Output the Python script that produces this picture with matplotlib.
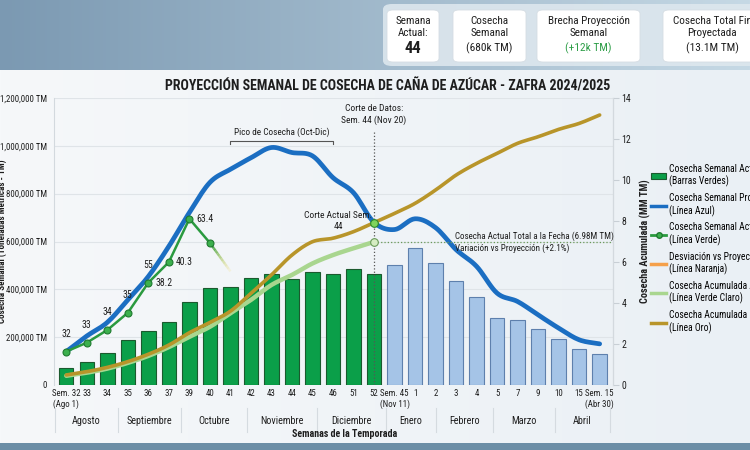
import os
import numpy as np
import matplotlib
matplotlib.use("Agg")
import matplotlib.pyplot as plt
from matplotlib.patches import FancyBboxPatch, Patch
from matplotlib.lines import Line2D
from matplotlib import font_manager as fm

# ---------------- DATA ----------------
week_labels = ["Sem. 32\n(Ago 1)", "33", "34", "35", "36", "37", "39", "40", "41", "42",
               "43", "44", "45", "46", "51", "52", "Sem. 45\n(Nov 11)", "1", "2", "3", "4",
               "5", "7", "9", "10", "15", "Sem. 15\n(Abr 30)"]
actual_weekly_bars = [71000, 96000, 135000, 189000, 226000, 265000, 349000, 405000, 411000,
                      447000, 463000, 444000, 474000, 465000, 485000, 464000]
projected_weekly_bars = [502000, 573000, 511000, 433000, 368000, 282000, 272000, 233000,
                         191000, 150000, 129000]
projected_weekly_line = [140000, 205000, 262000, 356000, 454000, 580000, 721000, 847000,
                         902000, 950000, 993000, 972000, 958000, 867000, 804000, 680000,
                         650000, 695000, 658000, 566000, 496000, 384000, 349000, 293000,
                         238000, 189000, 172000]
actual_weekly_line = [140000, 177000, 230000, 302000, 428000, 514000, 695000, 594000]
actual_line_tail = [594000, 475000]
point_labels_above = ["32", "33", "34", "35", "55"]
point_labels_right = {4: "38.2", 5: "40.3", 6: "63.4"}
cum_projected = [0.49, 0.65, 0.86, 1.14, 1.50, 1.95, 2.55, 3.05, 3.60, 4.47, 5.37, 6.34,
                 6.99, 7.16, 7.48, 7.92, 8.37, 8.86, 9.51, 10.24, 10.81, 11.30, 11.79,
                 12.11, 12.47, 12.76, 13.17]
cum_actual = [0.45, 0.60, 0.80, 1.08, 1.42, 1.85, 2.35, 2.84, 3.50, 4.15, 4.88, 5.37, 5.93,
              6.34, 6.67, 6.98]
months = ["Agosto", "Septiembre", "Octubre", "Noviembre", "Diciembre", "Enero", "Febrero",
          "Marzo", "Abril"]
left_ticks = [0, 200000, 400000, 600000, 800000, 1000000, 1200000]
right_ticks = [0, 2, 4, 6, 8, 10, 12, 14]
cards = [("Semana\nActual:", "44"), ("Cosecha\nSemanal", "(680k TM)"),
         ("Brecha Proyección\nSemanal", "(+12k TM)"), ("Cosecha Total Fin\nProyectada", "(13.1M TM)")]
cut_week = "52"

# ---------------- FONT (prefer a condensed face) ----------------
def _rank(f):
    fn = os.path.basename(f.fname).lower()
    if "italic" in fn or "oblique" in fn:
        return 99
    if "roboto" in fn and "condensed" in fn:
        return 0
    if fn.startswith("notosans-condensed") or fn.startswith("notosanscondensed"):
        return 1
    if "opensans" in fn and "condensed" in fn:
        return 2
    if "narrow" in fn and "liberation" in fn:
        return 3
    if fn.startswith("notosans-semicondensed"):
        return 4
    if "dejavusanscondensed" in fn:
        return 5
    return 99


_c = [f for f in fm.fontManager.ttflist if _rank(f) < 99]
_c.sort(key=lambda f: (_rank(f), abs((f.weight if isinstance(f.weight, int) else 400) - 400)))
if _c:
    plt.rcParams["font.family"] = [_c[0].name, "DejaVu Sans"]
    plt.rcParams["font.stretch"] = _c[0].stretch
else:
    plt.rcParams["font.family"] = ["Roboto", "DejaVu Sans"]

C_GREEN_BAR = "#0b9f49"
C_GREEN_EDGE = "#1b5a2e"
C_BLUE_BAR = "#a5c4e7"
C_BLUE_EDGE = "#5e80ad"
C_BLUE_LINE = "#1b6ec2"
C_GREEN_LINE = "#2a9a3f"
C_GOLD = "#b8952a"
C_LGREEN = "#a9d68f"
C_ORANGE = "#f5a04a"
TXT = "#1e1e1e"
FS = 6.5  # annotation size

W, H = 750, 450
fig = plt.figure(figsize=(7.5, 4.5), dpi=100)

bg = fig.add_axes([0, 0, 1, 1], zorder=-10)
bg.axis("off")
img = np.ones((H, W, 3))
xs = np.linspace(0, 1, W)
top_l = np.array([0x7b, 0x99, 0xb2]) / 255
top_r = np.array([0xc6, 0xd9, 0xe5]) / 255
mid_l = np.array([0xf6, 0xf8, 0xfa]) / 255
mid_r = np.array([0xea, 0xf0, 0xf5]) / 255
bot = np.array([0x6c, 0x8e, 0xa6]) / 255
for r in range(H):
    if r < 70:
        img[r] = top_l[None, :] * (1 - xs[:, None]) + top_r[None, :] * xs[:, None]
    elif r < 443:
        img[r] = mid_l[None, :] * (1 - xs[:, None]) + mid_r[None, :] * xs[:, None]
    else:
        img[r] = bot
bg.imshow(img, extent=[0, 1, 0, 1], aspect="auto")
bg.set_xlim(0, 1)
bg.set_ylim(0, 1)


def fx(px):
    return px / W


def fy(py):
    return 1 - py / H


fig.patches.append(FancyBboxPatch((fx(383), fy(66)), fx(380), 62 / H,
                                  boxstyle="round,pad=0,rounding_size=0.012",
                                  transform=fig.transFigure, fc="#dde7ee", ec="none", alpha=0.9))
card_x = [(387, 439), (453, 526), (537, 640), (663, 770)]
for (x0, x1), (lab, val) in zip(card_x, cards):
    fig.patches.append(FancyBboxPatch((fx(x0), fy(62)), fx(x1 - x0), 52 / H,
                                      boxstyle="round,pad=0,rounding_size=0.008",
                                      transform=fig.transFigure, fc="white", ec="#d5dde3", lw=0.6))
    cx = fx((x0 + x1) / 2) if x1 < 750 else fx(712)
    fig.text(cx, fy(26.5), lab, ha="center", va="center", fontsize=8.0, color=TXT,
             linespacing=1.25)
    is_num = val.isdigit()
    fig.text(cx, fy(48.5), val, ha="center", va="center",
             fontsize=12 if is_num else 8.2,
             color="#2e9e48" if val.startswith("(+") else TXT,
             fontweight="bold" if is_num else "normal")

fig.text(fx(388), fy(86), "PROYECCIÓN SEMANAL DE COSECHA DE CAÑA DE AZÚCAR - ZAFRA 2024/2025",
         ha="center", va="center", fontsize=10.0, fontweight="bold", color=TXT)

ax = fig.add_axes([fx(54), fy(385), (613 - 54) / W, (385 - 98) / H])
ax.set_facecolor("none")
n = len(week_labels)
x = np.arange(n)
na = len(actual_weekly_bars)
ax.bar(x[:na], actual_weekly_bars, width=0.7, color=C_GREEN_BAR, edgecolor=C_GREEN_EDGE,
       linewidth=0.8, zorder=2)
ax.bar(x[na:], projected_weekly_bars, width=0.7, color=C_BLUE_BAR, edgecolor=C_BLUE_EDGE,
       linewidth=0.8, zorder=2)


def smooth(xv, yv, k=10):
    xv = np.asarray(xv, float)
    yv = np.asarray(yv, float)
    P = np.column_stack([xv, yv])
    P = np.vstack([P[0] - (P[1] - P[0]), P, P[-1] + (P[-1] - P[-2])])
    out = []
    t = np.linspace(0, 1, k, endpoint=False)[:, None]
    for i in range(1, len(P) - 2):
        p0, p1, p2, p3 = P[i - 1], P[i], P[i + 1], P[i + 2]
        seg = 0.5 * ((2 * p1) + (-p0 + p2) * t + (2 * p0 - 5 * p1 + 4 * p2 - p3) * t ** 2 +
                     (-p0 + 3 * p1 - 3 * p2 + p3) * t ** 3)
        out.append(seg)
    out.append(P[-2][None, :])
    out = np.vstack(out)
    return out[:, 0], out[:, 1]


sx, sy = smooth(x, projected_weekly_line)
ax.plot(sx, sy, color=C_BLUE_LINE, lw=3.4, solid_capstyle="round", zorder=4)

xg = x[:len(actual_weekly_line)]
ax.plot(xg, actual_weekly_line, color=C_GREEN_LINE, lw=1.8, zorder=5)
ax.plot(xg, actual_weekly_line, "o", ms=5, mfc="#3cb04d", mec="#1f7a30", mew=0.8, zorder=6)
tail_x = np.linspace(xg[-1], xg[-1] + 1, 12)
tail_y = np.linspace(actual_line_tail[0], actual_line_tail[1], 12)
for i in range(11):
    f = i / 10
    col = (0.16 * (1 - f) + 0.95 * f, 0.6 * (1 - f) + 0.85 * f, 0.25 * (1 - f) + 0.3 * f)
    ax.plot(tail_x[i:i + 2], tail_y[i:i + 2], color=col, lw=1.8, alpha=1 - 0.85 * f, zorder=5,
            solid_capstyle="butt")

for i, lab in enumerate(point_labels_above):
    ax.annotate(lab, (xg[i], actual_weekly_line[i]), xytext=(0, 9), textcoords="offset points",
                ha="center", va="bottom", fontsize=7.0, color=TXT, zorder=7)
for i, lab in point_labels_right.items():
    ax.annotate(lab, (xg[i], actual_weekly_line[i]), xytext=(5, 0), textcoords="offset points",
                ha="left", va="center", fontsize=7.0, color=TXT, zorder=7)

ax.set_xlim(-0.6, n - 0.35)
ax.set_ylim(0, 1200000)
ax.set_yticks(left_ticks)
ax.set_yticklabels(["0" if v == 0 else f"{v:,} TM" for v in left_ticks])
ax.set_xticks(x)
ax.set_xticklabels(week_labels)
ax.tick_params(axis="y", length=0, labelsize=6.4, labelcolor=TXT, pad=5)
ax.tick_params(axis="x", length=0, labelsize=6.4, labelcolor=TXT, pad=3)
ax.grid(axis="y", color="#dfe4e8", lw=0.8, zorder=0)
ax.set_axisbelow(True)
for s in ["top", "bottom"]:
    ax.spines[s].set_visible(False)
for s in ["left", "right"]:
    ax.spines[s].set_color("#d3d9de")
    ax.spines[s].set_linewidth(0.8)
ax.set_ylabel("Cosecha Semanal (Toneladas Métricas - TM)", fontsize=6.5, fontweight="bold",
              color=TXT)
ax.yaxis.set_label_coords(-0.084, 0.5)

ax2 = ax.twinx()
ax2.set_ylim(0, 14)
ax2.set_yticks(right_ticks)
ax2.tick_params(axis="y", length=4, color="#c8cfd5", labelsize=7.0, labelcolor=TXT, pad=2)
for s in ["top", "bottom", "left"]:
    ax2.spines[s].set_visible(False)
ax2.spines["right"].set_color("#d3d9de")
ax2.set_ylabel("Cosecha Acumulada (MM TM)", fontsize=7.4, fontweight="bold", color=TXT)
ax2.yaxis.set_label_coords(1.047, 0.5)

sx, sy = smooth(x[:len(cum_actual)], cum_actual)
ax2.plot(sx, sy, color=C_LGREEN, lw=3.2, zorder=3, solid_capstyle="round")
sx, sy = smooth(x, cum_projected)
ax2.plot(sx, sy, color=C_GOLD, lw=2.6, zorder=4, solid_capstyle="round")

ic = week_labels.index(cut_week)
ax2.plot([ic], [cum_projected[ic]], "o", ms=5.5, mfc="#7fd45c", mec="#2b8a2b", mew=0.8, zorder=8)
ax2.plot([ic], [cum_actual[ic]], "o", ms=5.5, mfc="#d5ecc2", mec="#6a9a5a", mew=0.8, zorder=8)
ax2.plot([ic, n - 0.35], [cum_actual[ic], cum_actual[ic]], ls=":", color="#6a9a5a", lw=0.9,
         zorder=7)
ax2.plot([ic, ic], [0, 12.45], ls=":", color="#555555", lw=0.9, zorder=7)
ax2.text(ic, 13.2, "Corte de Datos:\nSem. 44 (Nov 20)", ha="center", va="center",
         fontsize=FS + 0.3, color=TXT, linespacing=1.3)
ax2.text(ic - 1.75, 7.98, "Corte Actual Sem.\n44", ha="center", va="center", fontsize=FS + 0.3,
         color=TXT, linespacing=1.3)
ax2.text(ic + 3.95, 6.97, "Cosecha Actual Total a la Fecha (6.98M TM)\nVariación vs Proyección (+2.1%)",
         ha="left", va="center", fontsize=FS, color=TXT, linespacing=1.3)

b0 = week_labels.index("41")
b1 = week_labels.index("46")
ax2.plot([b0, b0, b1, b1], [11.75, 11.9, 11.9, 11.75], color="#555555", lw=0.8, zorder=7)
ax2.text((b0 + b1) / 2, 12.35, "Pico de Cosecha (Oct-Dic)", ha="center", va="center",
         fontsize=FS + 0.2, color=TXT)

bounds = [-0.56, 2.5, 5.6, 8.8, 12.2, 15.6, 18.0, 20.8, 23.8, 26.5]
trans = ax.get_xaxis_transform()
for b in bounds:
    ax.plot([b, b], [-0.08, -0.165], transform=trans, color="#d5dbe0", lw=0.8, clip_on=False)
for m, a, b in zip(months, bounds[:-1], bounds[1:]):
    ax.text((a + b) / 2, -0.125, m, transform=trans, ha="center", va="center", fontsize=7.3,
            color=TXT)
ax.text(0.52, -0.172, "Semanas de la Temporada", transform=ax.transAxes, ha="center",
        va="center", fontsize=7.1, fontweight="bold", color=TXT)

handles = [Patch(fc=C_GREEN_BAR, ec=C_GREEN_EDGE, lw=0.8),
           Line2D([], [], color=C_BLUE_LINE, lw=2.5),
           Line2D([], [], color=C_GREEN_LINE, lw=2, marker="o", ms=4, mfc="#3cb04d", mec="#1f7a30"),
           Line2D([], [], color=C_ORANGE, lw=2.5),
           Line2D([], [], color=C_LGREEN, lw=2.5),
           Line2D([], [], color=C_GOLD, lw=2.5)]
labels = ["Cosecha Semanal Actual\n(Barras Verdes)",
          "Cosecha Semanal Proyectada\n(Línea Azul)",
          "Cosecha Semanal Actual\n(Línea Verde)",
          "Desviación vs Proyección\n(Línea Naranja)",
          "Cosecha Acumulada Actual\n(Línea Verde Claro)",
          "Cosecha Acumulada Proyectada\n(Línea Oro)"]
fig.legend(handles, labels, loc="upper left", bbox_to_anchor=(fx(651), fy(164)),
           frameon=False, fontsize=6.9, handlelength=1.6, handleheight=0.6,
           handletextpad=0.25, labelspacing=0.62, borderpad=0, borderaxespad=0)

fig.savefig("out.png", dpi=100)
